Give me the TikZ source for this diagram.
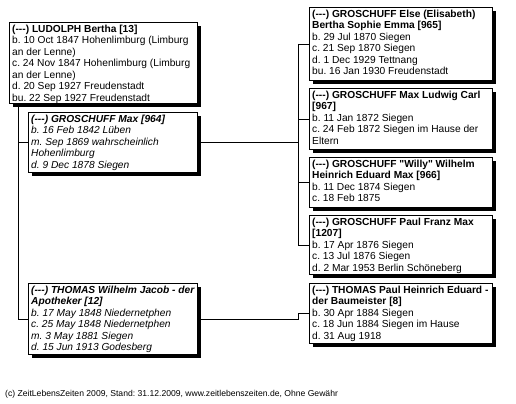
\documentclass[tikz,border=0pt]{standalone}
\usepackage{fontspec}
\setmainfont{Liberation Sans}
\newfontfamily\qfont{Liberation Sans}
\usetikzlibrary{shadows}
\newcommand{\dd}{(-{}-{}-)}
\newcommand{\sq}{{\qfont\symbol{34}}}
\frenchspacing
\tikzset{
  pbox/.style={draw=black, line width=0.8bp, fill=white, rectangle, inner sep=0pt, anchor=north west,
    drop shadow={fill=black, opacity=1, shadow xshift=3.8bp, shadow yshift=-3.8bp}},
  ptext/.style={anchor=north west, inner sep=0pt, align=left, font=\fontsize{10.2bp}{11.5bp}\selectfont},
  itext/.style={ptext, font=\fontsize{10.2bp}{11.5bp}\selectfont\itshape},
  link/.style={line width=0.8bp, draw=black},
  foottext/.style={anchor=base west, inner sep=0pt, font=\fontsize{8.6bp}{10bp}\selectfont}
}
\begin{document}
\begin{tikzpicture}[x=1bp,y=-1bp]
\fill[white] (0,0) rectangle (516,403);
\useasboundingbox (0,0) rectangle (516,403);

% left column
\node[pbox, minimum width=188bp, minimum height=81bp] (L) at (9,22) {};
\node[ptext] (Lt) at ([xshift=3bp,yshift=-2.5bp]L.north west)
  {\textbf{\dd{} LUDOLPH Bertha [13]}\\b. 10 Oct 1847 Hohenlimburg (Limburg\\an der Lenne)\\c. 24 Nov 1847 Hohenlimburg (Limburg\\an der Lenne)\\d. 20 Sep 1927 Freudenstadt\\bu. 22 Sep 1927 Freudenstadt};

\node[pbox, minimum width=169bp, minimum height=60bp] (M) at (28,112) {};
\node[itext] (Mt) at ([xshift=3bp,yshift=-2.5bp]M.north west)
  {\textbf{\dd{} GROSCHUFF Max [964]}\\b. 16 Feb 1842 Lüben\\m. Sep 1869 wahrscheinlich\\Hohenlimburg\\d. 9 Dec 1878 Siegen};

\node[pbox, minimum width=169bp, minimum height=71bp] (T) at (28,283) {};
\node[itext] (Tt) at ([xshift=3bp,yshift=-2.5bp]T.north west)
  {\textbf{\dd{} THOMAS Wilhelm Jacob - der}\\\textbf{Apotheker [12]}\\b. 17 May 1848 Niedernetphen\\c. 25 May 1848 Niedernetphen\\m. 3 May 1881 Siegen\\d. 15 Jun 1913 Godesberg};

% right column
\node[pbox, minimum width=183bp, minimum height=73bp] (E) at (309,7) {};
\node[ptext] (Et) at ([xshift=3bp,yshift=-2.5bp]E.north west)
  {\textbf{\dd{} GROSCHUFF Else (Elisabeth)}\\\textbf{Bertha Sophie Emma [965]}\\b. 29 Jul 1870 Siegen\\c. 21 Sep 1870 Siegen\\d. 1 Dec 1929 Tettnang\\bu. 16 Jan 1930 Freudenstadt};

\node[pbox, minimum width=183bp, minimum height=61bp] (C) at (309,88) {};
\node[ptext] (Ct) at ([xshift=3bp,yshift=-2.5bp]C.north west)
  {\textbf{\dd{} GROSCHUFF Max Ludwig Carl}\\\textbf{[967]}\\b. 11 Jan 1872 Siegen\\c. 24 Feb 1872 Siegen im Hause der\\Eltern};

\node[pbox, minimum width=183bp, minimum height=50bp] (W) at (309,157) {};
\node[ptext] (Wt) at ([xshift=3bp,yshift=-2.5bp]W.north west)
  {\textbf{\dd{} GROSCHUFF \sq Willy\sq{} Wilhelm}\\\textbf{Heinrich Eduard Max [966]}\\b. 11 Dec 1874 Siegen\\c. 18 Feb 1875};

\node[pbox, minimum width=183bp, minimum height=59bp] (P) at (309,215) {};
\node[ptext] (Pt) at ([xshift=3bp,yshift=-2.5bp]P.north west)
  {\textbf{\dd{} GROSCHUFF Paul Franz Max}\\\textbf{[1207]}\\b. 17 Apr 1876 Siegen\\c. 13 Jul 1876 Siegen\\d. 2 Mar 1953 Berlin Schöneberg};

\node[pbox, minimum width=183bp, minimum height=60bp] (H) at (309,283) {};
\node[ptext] (Ht) at ([xshift=3bp,yshift=-2.5bp]H.north west)
  {\textbf{\dd{} THOMAS Paul Heinrich Eduard -}\\\textbf{der Baumeister [8]}\\b. 30 Apr 1884 Siegen\\c. 18 Jun 1884 Siegen im Hause\\d. 31 Aug 1918};

% connectors
\coordinate (lx) at ([xshift=9bp]L.south west);
\coordinate (rx) at ([xshift=-11bp]E.west);
\draw[link] (lx) |- (T.west);
\draw[link] (lx |- M.west) -- (M.west);
\draw[link] (M.east) -- (M.east -| rx);
\draw[link] (E.west -| rx) -- (P.west -| rx);
\foreach \n in {E,C,W,P} \draw[link] (\n.west -| rx) -- (\n.west);
\draw[link] (T.east) -- (T.east -| rx) -- (H.west -| rx) -- (H.west);

% footer
\node[foottext] (foot) at (5,396) {(c) ZeitLebensZeiten 2009, Stand: 31.12.2009, www.zeitlebenszeiten.de, Ohne Gewähr};
\end{tikzpicture}
\end{document}
